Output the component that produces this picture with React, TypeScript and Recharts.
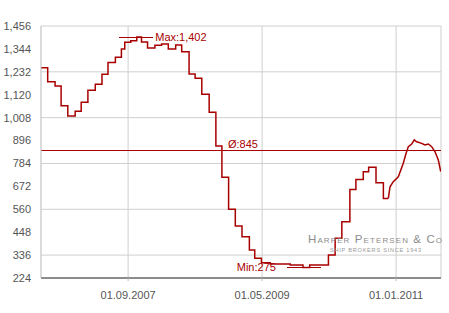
import { LineChart, Line, XAxis, YAxis, CartesianGrid, ReferenceLine } from "recharts";

// month offsets counted from 01.08.2006
const stepMonths = [
  0, 1.0, 2.1, 3.0, 4.0, 5.1, 6.0, 7.0, 8.1, 9.1,
  10.0, 11.1, 12.0, 12.5, 13.4, 14.3, 15.0, 15.9, 17.0, 18.0,
  19.0, 20.1, 21.0, 22.1, 23.0, 24.0, 25.1, 26.1, 27.0, 28.0,
  29.0, 30.0, 31.1, 31.9, 32.9, 34.2, 37.2, 39.1, 40.1, 42.9,
  43.9, 44.9, 46.1, 47.0, 48.1, 48.9, 50.0, 51.1, 51.84,
];
const stepValues = [
  1252, 1184, 1163, 1066, 1016, 1039, 1083, 1142, 1171, 1220,
  1278, 1303, 1344, 1376, 1384, 1402, 1378, 1348, 1362, 1368,
  1343, 1363, 1330, 1221, 1200, 1122, 1034, 869, 716, 560,
  478, 426, 361, 320, 299, 292, 287, 275, 287, 336,
  418, 499, 657, 706, 744, 765, 690, 613, 613,
];

// weekly quotes at the end
const weeklyMonths = [51.84, 52.09, 52.58, 53.33, 54.07, 54.48, 54.82, 55.33, 55.72, 56.07, 56.82, 57.31, 57.81, 58.31, 58.81, 59.3, 59.66];
const weeklyValues = [613, 670, 695, 719, 785, 833, 866, 879, 899, 890, 882, 874, 879, 866, 841, 801, 744];

const yTicks = [224, 336, 448, 560, 672, 784, 896, 1008, 1120, 1232, 1344, 1456];
const xTicks = [13, 33, 53];
const xTickLabels = ["01.09.2007", "01.05.2009", "01.01.2011"];

const average = 845;
const maxAt = 14.2;
const minAt = 39.25;
const markerHalf = 2.55;

const RED = "#a80000";

const stepData = stepMonths.map((t, i) => ({ t, v: stepValues[i] }));
const weeklyData = weeklyMonths.map((t, i) => ({ t, v: weeklyValues[i] }));

const allValues = [...stepValues, ...weeklyValues];
const maxValue = Math.max(...allValues);
const minValue = Math.min(...allValues);

const fmt = (v: number) => v.toLocaleString("en-US");

const AvgLabel = ({ viewBox }: any) => {
  if (!viewBox) return null;
  return (
    <text x={viewBox.x + 187} y={viewBox.y - 3} fill={RED} fontSize={11}>
      {"Ø:" + average}
    </text>
  );
};

export default function App() {
  return (
    <div
      style={{
        position: "absolute",
        left: 0,
        top: 0,
        width: 449,
        height: 313,
        background: "#fff",
        fontFamily: "Arial, 'Liberation Sans', sans-serif",
      }}
    >
      <LineChart width={449} height={313} data={stepData} margin={{ top: 26, right: 8, bottom: 5, left: 0 }}>
        <CartesianGrid stroke="#cfcfcf" strokeWidth={1} />
        <XAxis
          dataKey="t"
          type="number"
          domain={[0, 59.7]}
          ticks={xTicks}
          tickFormatter={(v) => xTickLabels[xTicks.indexOf(v)]}
          height={30}
          axisLine={{ stroke: "#8c8c8c", strokeWidth: 2 }}
          tickLine={{ stroke: "#bbb" }}
          tickSize={3}
          tickMargin={10}
          tick={{ fill: "#555", fontSize: 11 }}
          allowDataOverflow
        />
        <YAxis
          type="number"
          domain={[224, 1456]}
          ticks={yTicks}
          tickFormatter={fmt}
          width={41}
          axisLine={{ stroke: "#cfcfcf" }}
          tickLine={false}
          tickSize={0}
          tickMargin={10}
          tick={{ fill: "#555", fontSize: 11 }}
          allowDataOverflow
        />
        <ReferenceLine y={average} stroke={RED} strokeWidth={1} shapeRendering="crispEdges" label={<AvgLabel />} />
        <ReferenceLine
          segment={[
            { x: maxAt - markerHalf, y: maxValue },
            { x: maxAt + markerHalf, y: maxValue },
          ]}
          stroke={RED}
          strokeWidth={1}
          shapeRendering="crispEdges"
          label={{ value: "Max:" + fmt(maxValue), position: "right", offset: 2, fill: RED, fontSize: 11 }}
        />
        <ReferenceLine
          segment={[
            { x: minAt - markerHalf, y: minValue },
            { x: minAt + markerHalf, y: minValue },
          ]}
          stroke={RED}
          strokeWidth={1}
          shapeRendering="crispEdges"
          label={{ value: "Min:" + fmt(minValue), position: "left", offset: 11, fill: RED, fontSize: 11 }}
        />
        <Line
          data={stepData}
          dataKey="v"
          type="stepAfter"
          stroke={RED}
          strokeWidth={1.5}
          dot={false}
          isAnimationActive={false}
        />
        <Line
          data={weeklyData}
          dataKey="v"
          type="linear"
          stroke={RED}
          strokeWidth={1.5}
          dot={false}
          isAnimationActive={false}
        />
      </LineChart>
      <svg width={449} height={313} style={{ position: "absolute", left: 0, top: 0, pointerEvents: "none" }}>
        <text x={308} y={243} fill="#8c8c8c" fontSize={11.5} letterSpacing={1.1} style={{ fontVariant: "small-caps" }}>
          Harper Petersen &amp; Co
        </text>
        <text x={330} y={251.5} fill="#9a9a9a" fontSize={5.6} letterSpacing={0.75}>
          SHIP BROKERS SINCE 1943
        </text>
      </svg>
    </div>
  );
}
